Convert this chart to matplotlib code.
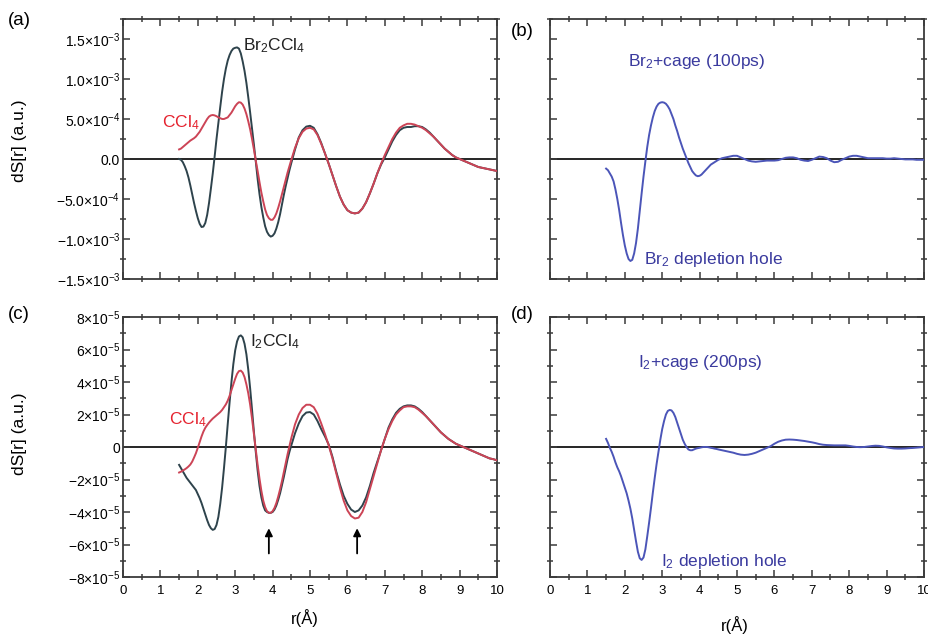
import numpy as np
import matplotlib
matplotlib.use("Agg")
import matplotlib.pyplot as plt
from matplotlib.ticker import FixedLocator, FixedFormatter, MultipleLocator

plt.rcParams['font.family'] = ['Liberation Sans', 'DejaVu Sans']
plt.rcParams['mathtext.fontset'] = 'custom'
plt.rcParams['mathtext.rm'] = 'Liberation Sans'
plt.rcParams['mathtext.it'] = 'Liberation Sans'
plt.rcParams['mathtext.bf'] = 'Liberation Sans:bold'

# ---------------- data ----------------
# r (Angstrom) sample positions: fine steps 1.5-4.5, coarser 4.6-10
r = np.round(np.concatenate([np.arange(1.5, 4.5001, 0.05),
                             np.arange(4.6, 10.0001, 0.1)]), 2)

scale_br = 1e-3
scale_i = 1e-5

# panel (a): Br2CCl4 and CCl4 (units of 1e-3)
br2ccl4 = [0.00, -0.01, -0.04, -0.09, -0.15, -0.23, -0.33, -0.44, -0.55, -0.65,
           -0.74, -0.81, -0.85, -0.845, -0.80, -0.70, -0.55, -0.37, -0.18, 0.03,
           0.25, 0.45, 0.65, 0.84, 1.00, 1.13, 1.23, 1.30, 1.35, 1.38,
           1.39, 1.395, 1.38, 1.32, 1.22, 1.10, 0.95, 0.77, 0.58, 0.38,
           0.18, -0.03, -0.25, -0.44, -0.60, -0.73, -0.84, -0.91, -0.95, -0.97,
           -0.96, -0.93, -0.87, -0.79, -0.69, -0.57, -0.45, -0.34, -0.24, -0.14,
           -0.05] + \
          [0.12, 0.27, 0.36, 0.405, 0.415, 0.39, 0.31, 0.20, 0.07, -0.06,
           -0.20, -0.34, -0.47, -0.57, -0.64, -0.67, -0.68, -0.67, -0.62, -0.54,
           -0.43, -0.31, -0.18, -0.07, 0.02, 0.12, 0.22, 0.30, 0.36, 0.39,
           0.40, 0.40, 0.41, 0.41, 0.40, 0.37, 0.33, 0.28, 0.23, 0.18,
           0.13, 0.09, 0.05, 0.02, 0.00, -0.02, -0.04, -0.06, -0.08, -0.10,
           -0.11, -0.12, -0.13, -0.14, -0.15]
ccl4_a = [0.12, 0.13, 0.15, 0.17, 0.19, 0.21, 0.23, 0.245, 0.26, 0.28,
          0.31, 0.34, 0.38, 0.42, 0.46, 0.50, 0.53, 0.545, 0.55, 0.545,
          0.535, 0.52, 0.51, 0.50, 0.50, 0.51, 0.52, 0.55, 0.58, 0.62,
          0.66, 0.69, 0.71, 0.705, 0.68, 0.63, 0.56, 0.47, 0.37, 0.25,
          0.12, -0.02, -0.15, -0.29, -0.42, -0.53, -0.63, -0.70, -0.74, -0.76,
          -0.76, -0.73, -0.68, -0.61, -0.53, -0.44, -0.35, -0.26, -0.17, -0.09,
          -0.01] + \
         [0.14, 0.26, 0.34, 0.38, 0.39, 0.37, 0.30, 0.19, 0.07, -0.06,
          -0.20, -0.34, -0.47, -0.57, -0.64, -0.67, -0.68, -0.67, -0.62, -0.54,
          -0.43, -0.31, -0.18, -0.06, 0.05, 0.15, 0.25, 0.33, 0.39, 0.42,
          0.44, 0.44, 0.43, 0.41, 0.39, 0.36, 0.32, 0.28, 0.23, 0.18,
          0.13, 0.09, 0.05, 0.02, 0.00, -0.02, -0.04, -0.06, -0.08, -0.10,
          -0.11, -0.12, -0.13, -0.14, -0.15]

# panel (b): Br2 + cage, 100 ps (units of 1e-3)
br2_cage = [-0.12, -0.14, -0.18, -0.22, -0.28, -0.38, -0.50, -0.64, -0.80, -0.95,
            -1.08, -1.18, -1.25, -1.275, -1.26, -1.18, -1.05, -0.87, -0.65, -0.43,
            -0.22, -0.03, 0.15, 0.30, 0.42, 0.52, 0.60, 0.655, 0.69, 0.705,
            0.71, 0.705, 0.69, 0.66, 0.62, 0.56, 0.50, 0.42, 0.35, 0.27,
            0.20, 0.13, 0.07, 0.01, -0.05, -0.10, -0.15, -0.18, -0.205, -0.215,
            -0.21, -0.195, -0.17, -0.145, -0.12, -0.095, -0.07, -0.055, -0.04, -0.025,
            -0.01] + \
           [0.01, 0.02, 0.03, 0.04, 0.04, 0.02, 0.00, -0.02, -0.03, -0.035,
            -0.03, -0.025, -0.02, -0.02, -0.02, -0.015, 0.00, 0.015, 0.02, 0.02,
            0.01, -0.01, -0.02, -0.025, -0.01, 0.01, 0.03, 0.025, 0.01, -0.02,
            -0.04, -0.035, -0.01, 0.01, 0.03, 0.04, 0.04, 0.03, 0.02, 0.01,
            0.01, 0.01, 0.01, 0.01, 0.005, 0.005, 0.01, 0.005, 0.0, -0.005,
            -0.005, -0.005, -0.01, -0.01, -0.01]

# panel (c): I2CCl4 and CCl4 (units of 1e-5)
i2ccl4 = [-1.1, -1.3, -1.5, -1.7, -1.9, -2.05, -2.2, -2.35, -2.5, -2.65,
          -2.9, -3.15, -3.45, -3.8, -4.15, -4.5, -4.8, -5.0, -5.1, -5.05,
          -4.8, -4.3, -3.5, -2.5, -1.3, 0.0, 1.4, 2.75, 4.0, 5.1,
          5.95, 6.5, 6.8, 6.87, 6.75, 6.35, 5.7, 4.75, 3.6, 2.3,
          0.95, -0.3, -1.45, -2.4, -3.1, -3.6, -3.9, -4.0, -4.05, -4.05,
          -4.0, -3.85, -3.6, -3.25, -2.85, -2.35, -1.85, -1.3, -0.75, -0.3,
          0.1] + \
         [0.85, 1.45, 1.9, 2.12, 2.15, 2.0, 1.6, 1.1, 0.65, 0.15,
          -0.6, -1.5, -2.3, -3.0, -3.5, -3.85, -4.0, -3.9, -3.6, -3.1,
          -2.4, -1.6, -0.9, -0.2, 0.5, 1.2, 1.7, 2.1, 2.35, 2.5,
          2.56, 2.56, 2.5, 2.35, 2.15, 1.9, 1.65, 1.4, 1.15, 0.9,
          0.7, 0.5, 0.35, 0.2, 0.1, 0.0, -0.1, -0.2, -0.3, -0.4,
          -0.5, -0.6, -0.7, -0.75, -0.82]
ccl4_c = [-1.57, -1.52, -1.45, -1.38, -1.3, -1.2, -1.08, -0.9, -0.65, -0.38,
          -0.05, 0.3, 0.65, 0.95, 1.18, 1.35, 1.5, 1.63, 1.75, 1.85,
          1.95, 2.05, 2.15, 2.28, 2.45, 2.62, 2.85, 3.15, 3.5, 3.85,
          4.2, 4.5, 4.67, 4.7, 4.58, 4.3, 3.85, 3.3, 2.6, 1.75,
          0.8, -0.15, -1.1, -1.95, -2.7, -3.3, -3.7, -3.95, -4.05, -4.05,
          -3.95, -3.75, -3.45, -3.05, -2.6, -2.1, -1.55, -1.0, -0.45, 0.05,
          0.55] + \
         [1.4, 2.0, 2.4, 2.6, 2.6, 2.45, 2.05, 1.45, 0.8, 0.1,
          -0.7, -1.6, -2.5, -3.3, -3.9, -4.25, -4.4, -4.35, -4.0, -3.4,
          -2.6, -1.8, -1.0, -0.2, 0.5, 1.1, 1.6, 2.0, 2.25, 2.45,
          2.5, 2.5, 2.45, 2.3, 2.1, 1.9, 1.65, 1.4, 1.15, 0.9,
          0.7, 0.5, 0.35, 0.2, 0.1, 0.0, -0.1, -0.2, -0.3, -0.4,
          -0.5, -0.6, -0.7, -0.75, -0.82]

# panel (d): I2 + cage, 200 ps (units of 1e-5)
i2_cage = [0.5, 0.25, -0.05, -0.3, -0.6, -0.95, -1.25, -1.5, -1.8, -2.15,
           -2.5, -2.85, -3.3, -3.8, -4.4, -5.1, -5.8, -6.45, -6.85, -6.95,
           -6.8, -6.3, -5.5, -4.65, -3.75, -2.8, -1.9, -1.05, -0.3, 0.45,
           1.1, 1.6, 2.0, 2.22, 2.28, 2.25, 2.1, 1.85, 1.5, 1.15,
           0.8, 0.45, 0.2, 0.0, -0.15, -0.2, -0.2, -0.15, -0.1, -0.07,
           -0.05, -0.02, 0.0, 0.0, 0.0, -0.02, -0.05, -0.07, -0.1, -0.12,
           -0.15] + \
          [-0.2, -0.25, -0.3, -0.35, -0.42, -0.47, -0.49, -0.47, -0.42, -0.35,
           -0.25, -0.15, -0.05, 0.05, 0.2, 0.32, 0.4, 0.45, 0.46, 0.45,
           0.43, 0.4, 0.37, 0.33, 0.29, 0.24, 0.18, 0.14, 0.12, 0.11,
           0.1, 0.1, 0.1, 0.1, 0.07, 0.03, 0.0, -0.01, 0.0, 0.03,
           0.06, 0.08, 0.07, 0.03, -0.02, -0.06, -0.09, -0.1, -0.1, -0.09,
           -0.07, -0.06, -0.04, -0.02, 0.0]

# tick labels
yticks_a = [-1.5e-3, -1.0e-3, -5e-4, 0.0, 5e-4, 1.0e-3, 1.5e-3]
ylabels_a = [r'$-1.5{\times}10^{-3}$', r'$-1.0{\times}10^{-3}$', r'$-5.0{\times}10^{-4}$',
             '0.0', r'$5.0{\times}10^{-4}$', r'$1.0{\times}10^{-3}$', r'$1.5{\times}10^{-3}$']
yticks_c = [-8e-5, -6e-5, -4e-5, -2e-5, 0.0, 2e-5, 4e-5, 6e-5, 8e-5]
ylabels_c = [r'$-8{\times}10^{-5}$', r'$-6{\times}10^{-5}$', r'$-4{\times}10^{-5}$',
             r'$-2{\times}10^{-5}$', '0', r'$2{\times}10^{-5}$', r'$4{\times}10^{-5}$',
             r'$6{\times}10^{-5}$', r'$8{\times}10^{-5}$']
xticks = list(range(0, 11))

arrow_r = [3.9, 6.26]

# ---------------- style ----------------
C_DARK = '#2e434c'
C_RED_LINE = '#cc4456'
C_RED_TXT = '#e5232f'
C_BLUE_LINE = '#4b55b8'
C_BLUE_TXT = '#3a3a9e'
C_SPINE = '#3a3a3a'

fig = plt.figure(figsize=(9.29, 6.35), dpi=100)
W, H = 929, 635
def ax_at(x0, y0, x1, y1):
    return fig.add_axes([x0 / W, 1 - y1 / H, (x1 - x0) / W, (y1 - y0) / H])

axA = ax_at(123, 19, 497, 279)
axB = ax_at(550, 19, 924, 279)
axC = ax_at(123, 317, 497, 577)
axD = ax_at(550, 317, 924, 577)

for ax in (axA, axB, axC, axD):
    ax.set_xlim(0, 10)
    for s in ax.spines.values():
        s.set_color(C_SPINE)
        s.set_linewidth(1.3)
    ax.xaxis.set_major_locator(MultipleLocator(1))
    ax.xaxis.set_minor_locator(MultipleLocator(0.5))
    ax.tick_params(which='major', direction='in', length=5, width=1.1,
                   color=C_SPINE, top=True, right=True, labelsize=9.5, pad=6)
    ax.tick_params(which='minor', direction='inout', length=5, width=1.1,
                   color=C_SPINE, top=True, right=True)
    ax.axhline(0, color='black', lw=1.2, zorder=1)

for ax in (axA, axB):
    ax.set_ylim(-1.5e-3, 1.75e-3)
    ax.yaxis.set_major_locator(FixedLocator(yticks_a))
    ax.yaxis.set_minor_locator(MultipleLocator(2.5e-4))
    ax.tick_params(labelbottom=False)
for ax in (axC, axD):
    ax.set_ylim(-8e-5, 8e-5)
    ax.yaxis.set_major_locator(FixedLocator(yticks_c))
    ax.yaxis.set_minor_locator(MultipleLocator(1e-5))
    ax.xaxis.set_major_locator(FixedLocator(xticks))

axA.yaxis.set_major_formatter(FixedFormatter(ylabels_a))
axC.yaxis.set_major_formatter(FixedFormatter(ylabels_c))
for ax in (axA, axC):
    ax.tick_params(axis='y', which='major', labelsize=10, pad=2)
for ax in (axB, axD):
    ax.tick_params(axis='y', labelleft=False)

# curves
lw = 1.4
axA.plot(r, np.array(ccl4_a) * scale_br, color=C_RED_LINE, lw=lw, zorder=3)
axA.plot(r, np.array(br2ccl4) * scale_br, color=C_DARK, lw=lw, zorder=2)
axB.plot(r, np.array(br2_cage) * scale_br, color=C_BLUE_LINE, lw=lw, zorder=3)
axC.plot(r, np.array(ccl4_c) * scale_i, color=C_RED_LINE, lw=lw, zorder=3)
axC.plot(r, np.array(i2ccl4) * scale_i, color=C_DARK, lw=lw, zorder=2)
axD.plot(r, np.array(i2_cage) * scale_i, color=C_BLUE_LINE, lw=lw, zorder=3)

# annotations
fs = 12.5
axA.text(3.21, 1.36e-3, r'Br$_2$CCl$_4$', fontsize=fs, color='#222222', va='baseline')
axA.text(1.04, 0.40e-3, r'CCl$_4$', fontsize=fs, color=C_RED_TXT, va='baseline')
axC.text(3.40, 6.22e-5, r'I$_2$CCl$_4$', fontsize=fs, color='#222222', va='baseline')
axC.text(1.23, 1.42e-5, r'CCl$_4$', fontsize=fs, color=C_RED_TXT, va='baseline')
axB.text(2.09, 1.16e-3, r'Br$_2$+cage (100ps)', fontsize=fs, color=C_BLUE_TXT, va='baseline')
axB.text(2.51, -1.31e-3, r'Br$_2$ depletion hole', fontsize=fs, color=C_BLUE_TXT, va='baseline')
axD.text(2.35, 4.92e-5, r'I$_2$+cage (200ps)', fontsize=fs, color=C_BLUE_TXT, va='baseline')
axD.text(2.97, -7.32e-5, r'I$_2$ depletion hole', fontsize=fs, color=C_BLUE_TXT, va='baseline')

for xr in arrow_r:
    axC.annotate('', xy=(xr, -5.0e-5), xytext=(xr, -6.55e-5),
                 arrowprops=dict(arrowstyle='-|>', color='black', lw=1.3,
                                 mutation_scale=11, shrinkA=0, shrinkB=0))

# axis labels
axA.set_ylabel('dS[r] (a.u.)', fontsize=12.5)
axA.yaxis.set_label_coords(-0.257, 0.53)
axC.set_ylabel('dS[r] (a.u.)', fontsize=12.5)
axC.yaxis.set_label_coords(-0.257, 0.55)
axC.set_xlabel('r(Å)', fontsize=12)
axC.xaxis.set_label_coords(0.487, -0.122)
axD.set_xlabel('r(Å)', fontsize=12)
axD.xaxis.set_label_coords(0.495, -0.152)

# panel letters
fig.text(8 / W, 1 - 12 / H, '(a)', fontsize=13.5, va='top', ha='left')
fig.text(511 / W, 1 - 23 / H, '(b)', fontsize=13.5, va='top', ha='left')
fig.text(8 / W, 1 - 306 / H, '(c)', fontsize=13.5, va='top', ha='left')
fig.text(511 / W, 1 - 306 / H, '(d)', fontsize=13.5, va='top', ha='left')

fig.savefig('out.png', dpi=100)
